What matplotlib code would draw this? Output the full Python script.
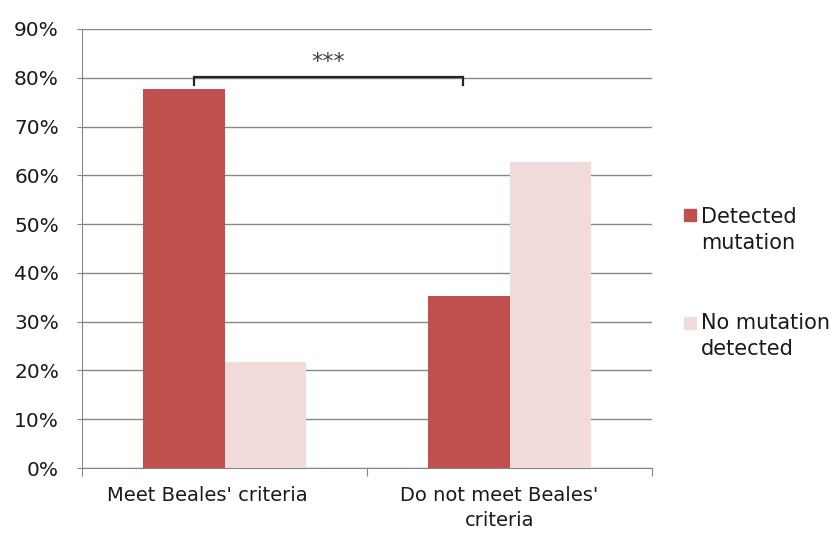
import numpy as np
import matplotlib.pyplot as plt
from matplotlib.ticker import FuncFormatter

# data
groups = ["Meet Beales' criteria", "Do not meet Beales'\ncriteria"]
detected = [77.8, 35.2]
not_detected = [21.8, 62.8]
series_names = ["Detected\nmutation", "No mutation\ndetected"]
colors = ["#C0504D", "#F2DCDB"]

plt.rcParams['font.family'] = ['DejaVu Sans']
fig = plt.figure(figsize=(8.34, 5.36), dpi=100)
ax = fig.add_axes([82/834, 1-468/536, 570/834, 439/536])

x = np.arange(len(groups))
w = 0.286
ax.bar(x - w/2, detected, w, color=colors[0], zorder=3)
ax.bar(x + w/2, not_detected, w, color=colors[1], zorder=3)

ax.set_xlim(-0.5, 1.5)
ax.set_ylim(0, 90)
ax.set_yticks(np.arange(0, 91, 10))
ax.yaxis.set_major_formatter(FuncFormatter(lambda v, p: '%d%%' % v))
ax.yaxis.grid(True, color='#868686', linewidth=1, zorder=0)
ax.tick_params(axis='y', length=3.6, color='#868686', labelsize=14.5,
               labelcolor='#1a1a1a', pad=13)

# x ticks sit on the category borders, labels in the middle
ax.set_xticks([-0.5, 0.5, 1.5])
ax.set_xticklabels([])
ax.tick_params(axis='x', length=6, color='#868686')
ax.set_xticks(x - np.array([0.06, 0.035]), minor=True)
ax.set_xticklabels(groups, minor=True, fontsize=14, color='#1a1a1a', linespacing=1.4)
ax.tick_params(axis='x', which='minor', length=0, pad=13)

for s in ['top', 'right']:
    ax.spines[s].set_visible(False)
for s in ['left', 'bottom']:
    ax.spines[s].set_color('#868686')

# significance bracket
bx0, bx1, by = -0.107, 0.837, 80.2
ax.plot([bx0, bx0, bx1, bx1], [78.5, by, by, 78.5], color='#262626', lw=1.6, zorder=4,
        solid_joinstyle='miter')
ax.text((bx0 + bx1)/2, by + 1.0, '***', ha='center', va='bottom', fontsize=16, color='#404040')

# legend drawn as in the source
for i, name in enumerate(series_names):
    sq_top = [209, 317][i]
    txt_top = [207, 313][i]
    fig.patches.append(plt.Rectangle((684/834, 1-(sq_top+12)/536), 12/834, 12/536,
                                     transform=fig.transFigure, color=colors[i]))
    fig.text(701/834, 1-txt_top/536, name, fontsize=15, color='#1a1a1a', va='top',
             linespacing=1.35)

fig.savefig('out.png', dpi=100)
